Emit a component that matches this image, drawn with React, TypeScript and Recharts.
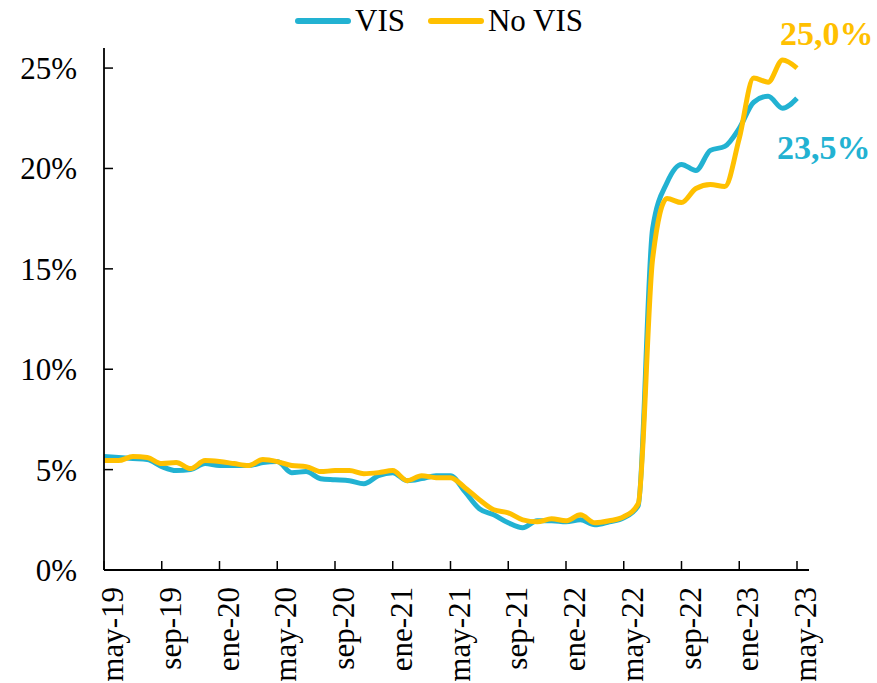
import React from 'react';
import { LineChart, Line, XAxis, YAxis, Legend } from 'recharts';

// monthly categories, may-19 .. may-23
const months = [
  'may-19', 'jun-19', 'jul-19', 'ago-19', 'sep-19', 'oct-19', 'nov-19', 'dic-19',
  'ene-20', 'feb-20', 'mar-20', 'abr-20', 'may-20', 'jun-20', 'jul-20', 'ago-20',
  'sep-20', 'oct-20', 'nov-20', 'dic-20', 'ene-21', 'feb-21', 'mar-21', 'abr-21',
  'may-21', 'jun-21', 'jul-21', 'ago-21', 'sep-21', 'oct-21', 'nov-21', 'dic-21',
  'ene-22', 'feb-22', 'mar-22', 'abr-22', 'may-22', 'jun-22', 'jul-22', 'ago-22',
  'sep-22', 'oct-22', 'nov-22', 'dic-22', 'ene-23', 'feb-23', 'mar-23', 'abr-23',
  'may-23',
];

const visValues = [
  5.65, 5.6, 5.55, 5.5, 5.15, 4.95, 5.0, 5.3,
  5.2, 5.2, 5.2, 5.35, 5.4, 4.85, 4.9, 4.55,
  4.5, 4.45, 4.3, 4.7, 4.85, 4.45, 4.55, 4.7,
  4.7, 3.9, 3.05, 2.75, 2.35, 2.1, 2.45, 2.45,
  2.4, 2.5, 2.25, 2.4, 2.6, 3.2, 17.0, 19.3,
  20.2, 19.9, 20.9, 21.1, 22.0, 23.3, 23.6, 23.0,
  23.5,
];

const noVisValues = [
  5.45, 5.45, 5.65, 5.6, 5.3, 5.35, 5.05, 5.45,
  5.4, 5.3, 5.2, 5.5, 5.4, 5.2, 5.15, 4.9,
  4.95, 4.95, 4.8, 4.85, 4.95, 4.45, 4.7, 4.6,
  4.6, 4.1, 3.5, 3.0, 2.85, 2.5, 2.4, 2.55,
  2.45, 2.75, 2.35, 2.45, 2.65, 3.3, 15.5, 18.5,
  18.3, 19.0, 19.2, 19.1, 21.5, 24.5, 24.3, 25.4,
  25.0,
];

const yTicks = [0, 5, 10, 15, 20, 25];
const seriesNames = ['VIS', 'No VIS'];

const BLUE = '#22B2D2';
const GOLD = '#FFC000';
const FONT = '"Liberation Serif", "Times New Roman", serif';

const data = months.map((m, i) => ({ month: m, vis: visValues[i], noVis: noVisValues[i] }));
const last = data.length - 1;

const fmt = (v: number) => v.toFixed(1).replace('.', ',') + '%';

const YTick = (props: any) => {
  const { x, y, payload } = props;
  return (
    <g>
      <line x1={x} x2={x + 9} y1={y} y2={y} stroke="#000" strokeWidth={1.5} />
      <text x={x - 27} y={y} dy={11} textAnchor="end" fontFamily={FONT} fontSize={31} fill="#000">
        {payload.value}%
      </text>
    </g>
  );
};

const XTick = (props: any) => {
  const { x, y, payload } = props;
  return (
    <g>
      <line x1={x} x2={x} y1={y} y2={y - 9} stroke="#000" strokeWidth={1.5} />
      <text
        transform={`translate(${x + 19},${y + 17}) rotate(-90)`}
        textAnchor="end"
        fontFamily={FONT}
        fontSize={31}
        fill="#000"
      >
        {payload.value}
      </text>
    </g>
  );
};

const endLabel = (color: string, values: number[], dx: number, dy: number) => (p: any) => {
  if (p.index !== last) return <g />;
  return (
    <text x={p.x + dx} y={p.y + dy} fontFamily={FONT} fontWeight="bold" fontSize={34} fill={color}>
      {fmt(values[last])}
    </text>
  );
};

const LegendContent = (props: any) => {
  const items = [...(props.payload || [])].sort(
    (a: any, b: any) => seriesNames.indexOf(a.value) - seriesNames.indexOf(b.value)
  );
  return (
    <div style={{ display: 'flex', justifyContent: 'center', alignItems: 'center', paddingLeft: 22 }}>
      {items.map((it: any) => (
        <div key={it.value} style={{ display: 'flex', alignItems: 'center', marginRight: 22 }}>
          <svg width={58} height={10}>
            <line x1={4} x2={54} y1={5} y2={5} stroke={it.color} strokeWidth={6} strokeLinecap="round" />
          </svg>
          <span style={{ fontFamily: FONT, fontSize: 31, color: '#000', marginLeft: 3, lineHeight: '36px' }}>
            {it.value}
          </span>
        </div>
      ))}
    </div>
  );
};

export default function App() {
  return (
    <div style={{ position: 'absolute', left: 0, top: 0, width: 877, height: 683, background: '#fff' }}>
      <LineChart width={877} height={683} data={data} margin={{ top: 48, right: 68, bottom: 83, left: 20 }}>
        <XAxis
          dataKey="month"
          interval={3}
          height={30}
          padding={{ left: 0, right: 12 }}
          axisLine={{ stroke: '#000', strokeWidth: 1.8 }}
          tickLine={false}
          tickSize={0}
          tickMargin={0}
          tick={<XTick />}
        />
        <YAxis
          type="number"
          domain={[0, 26]}
          ticks={yTicks}
          width={84}
          axisLine={{ stroke: '#000', strokeWidth: 1.8 }}
          tickLine={false}
          tickSize={0}
          tickMargin={0}
          tick={<YTick />}
        />
        <Legend
          layout="horizontal"
          verticalAlign="middle"
          align="center"
          wrapperStyle={{ top: 3, left: 0, width: 877 }}
          content={<LegendContent />}
        />
        <Line
          name="VIS"
          dataKey="vis"
          type="monotone"
          stroke={BLUE}
          strokeWidth={5}
          dot={false}
          activeDot={false}
          isAnimationActive={false}
          label={endLabel(BLUE, visValues, -20, 61)}
        />
        <Line
          name="No VIS"
          dataKey="noVis"
          type="monotone"
          stroke={GOLD}
          strokeWidth={5}
          dot={false}
          activeDot={false}
          isAnimationActive={false}
          label={endLabel(GOLD, noVisValues, -17, -23)}
        />
      </LineChart>
    </div>
  );
}
